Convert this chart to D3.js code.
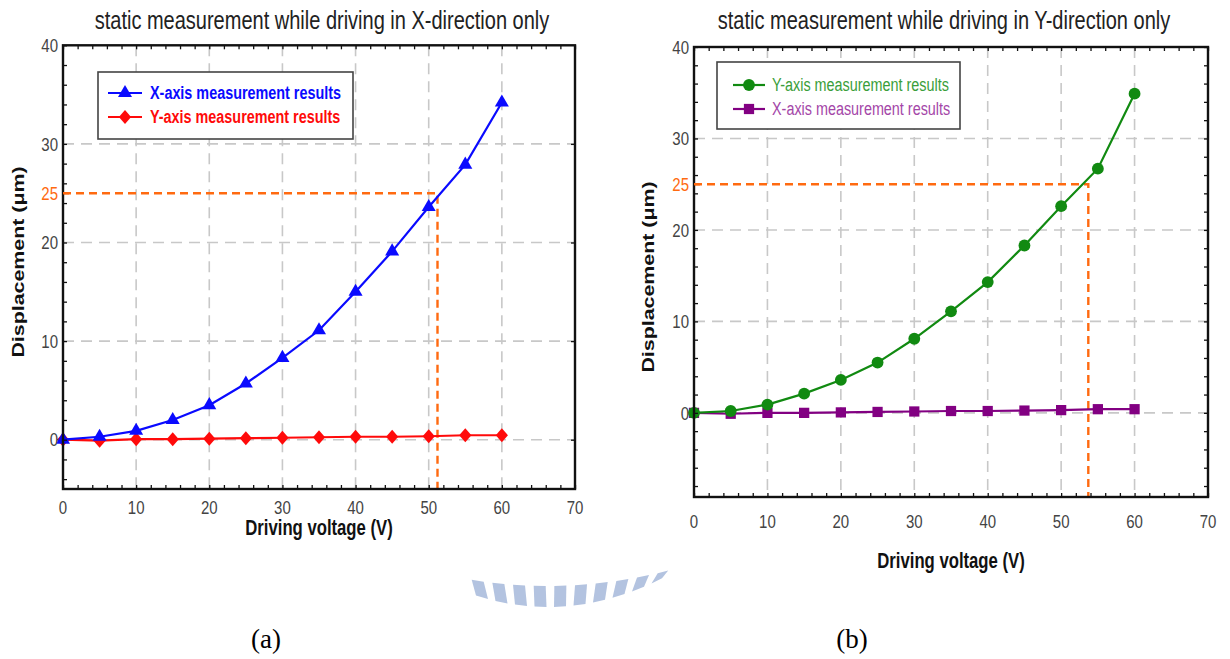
<!DOCTYPE html>
<html>
<head>
<meta charset="utf-8">
<script src="https://cdn.jsdelivr.net/npm/d3@7"></script>
<style>
  html, body { margin: 0; padding: 0; background: #fff; }
  svg { display: block; }
</style>
</head>
<body>
<svg id="fig" width="1230" height="659"></svg>
<script>
// Driving voltage steps (V)
const voltage = [0, 5, 10, 15, 20, 25, 30, 35, 40, 45, 50, 55, 60];

// (a) driving in X-direction only: displacement (µm)
const aXAxisResult = [0, 0.3, 0.9, 2.0, 3.5, 5.7, 8.3, 11.1, 15.0, 19.1, 23.6, 27.9, 34.2];
const aYAxisResult = [0, -0.1, 0.05, 0.05, 0.1, 0.15, 0.2, 0.25, 0.3, 0.3, 0.35, 0.45, 0.45];

// (b) driving in Y-direction only: displacement (µm)
const bYAxisResult = [0, 0.2, 0.9, 2.1, 3.6, 5.5, 8.1, 11.1, 14.3, 18.3, 22.6, 26.7, 34.9];
const bXAxisResult = [0, -0.1, 0, 0, 0.05, 0.1, 0.15, 0.2, 0.2, 0.25, 0.3, 0.4, 0.4];

// Axis tick labels
const xTickLabels = [0, 10, 20, 30, 40, 50, 60, 70];
const yTickLabels = [0, 10, 20, 30, 40];

// 25 µm reference displacement and the voltage at which each curve reaches it
const targetDisp = 25;
const aTargetVoltage = 51.2;
const bTargetVoltage = 53.7;

const titles = [
  "static measurement while driving in X-direction only",
  "static measurement while driving in Y-direction only"
];
const legendA = ["X-axis measurement results", "Y-axis measurement results"];
const legendB = ["Y-axis measurement results", "X-axis measurement results"];
const captions = ["(a)", "(b)"];

// ---------------------------------------------------------------------------
const svg = d3.select("#fig");
const SY = 1.28;             // the printed figure is stretched vertically
const SANS = "'Liberation Sans', Arial, sans-serif";
const ORANGE = "#ff6a10";

// square diamond (near-equal width and height)
const diamondSym = {
  draw(ctx, size) {
    const r = Math.sqrt(size) / 1.6;
    ctx.moveTo(0, -r * 1.15); ctx.lineTo(r, 0); ctx.lineTo(0, r * 1.15); ctx.lineTo(-r, 0); ctx.closePath();
  }
};

// stretched text helper
function sText(g, x, y, str, opts) {
  return g.append("text")
    .attr("transform", opts.rotate
      ? `translate(${x},${y}) rotate(-90) scale(${SY},1)`
      : `translate(${x},${y}) scale(1,${SY})`)
    .attr("font-family", opts.family || SANS)
    .attr("font-size", opts.size)
    .attr("font-weight", opts.weight || "normal")
    .attr("fill", opts.fill || "#222")
    .attr("text-anchor", opts.anchor || "middle")
    .attr("dominant-baseline", "central")
    .text(str);
}

function drawPanel(p) {
  const g = svg.append("g");
  const x = d3.scaleLinear().domain([0, 70]).range([p.left, p.right]);
  const y = d3.scaleLinear().domain([p.yMin, 40]).range([p.bottom, p.top]);

  // dashed grid
  g.append("g").selectAll("line").data([10, 20, 30, 40, 50, 60]).join("line")
    .attr("x1", d => x(d)).attr("x2", d => x(d))
    .attr("y1", p.top).attr("y2", p.bottom)
    .attr("stroke", "#c8c8c8").attr("stroke-width", 1.6).attr("stroke-dasharray", "11 7");
  g.append("g").selectAll("line").data([0, 10, 20, 30]).join("line")
    .attr("x1", p.left).attr("x2", p.right)
    .attr("y1", d => y(d)).attr("y2", d => y(d))
    .attr("stroke", "#c8c8c8").attr("stroke-width", 1.6).attr("stroke-dasharray", "11 7");

  // 25 µm reference lines
  g.append("path")
    .attr("d", `M${x(0)},${y(targetDisp)}H${x(p.target)}V${y(p.yMin)}`)
    .attr("fill", "none").attr("stroke", ORANGE).attr("stroke-width", 2.4)
    .attr("stroke-dasharray", "8 5");

  // series
  const line = d3.line().x((d, i) => x(voltage[i])).y(d => y(d));
  p.series.slice().reverse().forEach(s => {
    g.append("path").datum(s.values).attr("d", line)
      .attr("fill", "none").attr("stroke", s.color).attr("stroke-width", 2.2);
    g.append("g").selectAll("path").data(s.values).join("path")
      .attr("transform", (d, i) => `translate(${x(voltage[i])},${y(d)})`)
      .attr("d", d3.symbol().type(s.symbol).size(s.size))
      .attr("fill", s.color);
  });

  // frame
  g.append("rect")
    .attr("x", p.left).attr("y", p.top)
    .attr("width", p.right - p.left).attr("height", p.bottom - p.top)
    .attr("fill", "none").attr("stroke", "#111").attr("stroke-width", 2.4);

  // inward tick marks on all four sides
  const minorX = d3.range(0, 71, 2);
  const minorY = d3.range(Math.ceil(p.yMin / 2) * 2, 41, 2);
  const addAxis = (axis, tx, ty) => {
    const a = g.append("g").attr("transform", `translate(${tx},${ty})`).call(axis);
    a.select(".domain").remove();
    a.selectAll("line").attr("stroke", "#111").attr("stroke-width", 1.3);
  };
  addAxis(d3.axisBottom(x).tickValues(minorX).tickSize(-4).tickFormat(""), 0, p.bottom);
  addAxis(d3.axisTop(x).tickValues(minorX).tickSize(-4).tickFormat(""), 0, p.top);
  addAxis(d3.axisLeft(y).tickValues(minorY).tickSize(-4).tickFormat(""), p.left, 0);
  addAxis(d3.axisRight(y).tickValues(p.rightMinor ? minorY : [0, 10, 20, 30]).tickSize(-4).tickFormat(""), p.right, 0);

  // tick labels
  xTickLabels.forEach(v => sText(g, x(v), p.xTickY, v, { size: 15, fill: "#444" }));
  yTickLabels.forEach(v => sText(g, p.left - 5, y(v), v, { size: 15, fill: "#444", anchor: "end" }));
  sText(g, p.left - 5, y(targetDisp), targetDisp, { size: 15, fill: ORANGE, anchor: "end" });
  g.append("line").attr("x1", p.left).attr("x2", p.left + 6)
    .attr("y1", y(targetDisp)).attr("y2", y(targetDisp))
    .attr("stroke", ORANGE).attr("stroke-width", 2.4);

  // axis titles and chart title
  sText(g, (p.left + p.right) / 2, p.xLabelY, "Driving voltage (V)", { size: 16.7, weight: "bold", fill: "#111" });
  sText(g, p.yLabelX, p.yLabelY, "Displacement (\u03bcm)", { size: 16.7, weight: "bold", fill: "#111", rotate: true });
  sText(g, p.titleX, p.titleY, p.title, { size: 20, fill: "#222" });

  // legend
  const L = p.legend;
  g.append("rect").attr("x", L.x).attr("y", L.y).attr("width", L.w).attr("height", L.h)
    .attr("fill", "#fff").attr("stroke", "#444").attr("stroke-width", 1.6);
  p.series.forEach((s, i) => {
    const ry = L.rows[i];
    g.append("line").attr("x1", L.lineX0).attr("x2", L.lineX1).attr("y1", ry).attr("y2", ry)
      .attr("stroke", s.color).attr("stroke-width", 2.2);
    g.append("path").attr("transform", `translate(${(L.lineX0 + L.lineX1) / 2},${ry})`)
      .attr("d", d3.symbol().type(s.symbol).size(s.size)).attr("fill", s.color);
    sText(g, L.textX, ry, s.name, { size: L.fontSize, weight: L.weight, fill: s.textColor, anchor: "start" });
  });
}

drawPanel({
  left: 63, right: 575, top: 45.3, bottom: 489, yMin: -5,
  xTickY: 507, xLabelY: 528, yLabelX: 18, yLabelY: 262,
  titleX: 322, titleY: 20, title: titles[0],
  target: aTargetVoltage, rightMinor: false,
  series: [
    { name: legendA[0], values: aXAxisResult, color: "#0a0aff", textColor: "#0a0aff", symbol: d3.symbolTriangle, size: 85 },
    { name: legendA[1], values: aYAxisResult, color: "#ff0a0a", textColor: "#ff0a0a", symbol: diamondSym, size: 95 }
  ],
  legend: { x: 98, y: 72, w: 255, h: 67, rows: [93, 117], lineX0: 108, lineX1: 142, textX: 150, fontSize: 14.4, weight: "bold" }
});

drawPanel({
  left: 694, right: 1208, top: 47, bottom: 497, yMin: -9.2,
  xTickY: 521, xLabelY: 561, yLabelX: 648, yLabelY: 277,
  titleX: 944, titleY: 20, title: titles[1],
  target: bTargetVoltage, rightMinor: true,
  series: [
    { name: legendB[0], values: bYAxisResult, color: "#118a11", textColor: "#3a9e3a", symbol: d3.symbolCircle, size: 110 },
    { name: legendB[1], values: bXAxisResult, color: "#820082", textColor: "#a446a8", symbol: d3.symbolSquare, size: 105 }
  ],
  legend: { x: 717, y: 62, w: 243, h: 67, rows: [85, 109], lineX0: 733, lineX1: 765, textX: 772, fontSize: 14.4, weight: "normal" }
});

// faint striped band between the panels
(function () {
  const outer = xx => 607 - (xx - 548) * (xx - 548) / 454;
  const inner = xx => 586 - (xx - 548) * (xx - 548) / 834;
  const starts = d3.range(476, 660, 19.5);
  const band = svg.append("g").attr("fill", "#b3c3e0");
  starts.forEach(x0 => {
    const x1 = Math.min(x0 + 12, 662);
    const lean = (x0 - 548) * 0.06;
    band.append("path").attr("d",
      `M${x0 + lean},${inner(x0)}L${x1 + lean},${inner(x1)}L${x1},${outer(x1)}L${x0},${outer(x0)}Z`);
  });
})();

// panel captions
captions.forEach((c, i) => {
  svg.append("text")
    .attr("x", [266, 852][i]).attr("y", 648)
    .attr("font-family", "'Liberation Serif', 'Times New Roman', serif")
    .attr("font-size", 27).attr("text-anchor", "middle").attr("fill", "#000")
    .text(c);
});
</script>
</body>
</html>
